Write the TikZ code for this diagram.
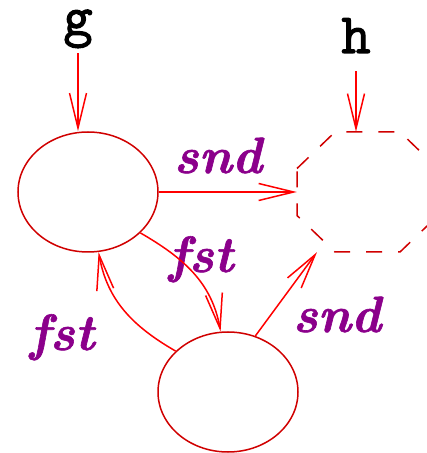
\documentclass[tikz,border=0pt]{standalone}
\usepackage{fontspec}
\newfontfamily\labelfont{Latin Modern Roman}[BoldItalicFeatures={FakeBold=1.2}]
\newfontfamily\varfont{Latin Modern Mono}[FakeBold=2]
\usetikzlibrary{arrows.meta,shapes.geometric}

\definecolor{statered}{HTML}{D00000}
\definecolor{labelpurple}{HTML}{8B008B}

\begin{document}
\begin{tikzpicture}[x=1pt,y=1pt,
	state/.style={draw=statered,line width=1.5pt,ellipse,inner sep=0,minimum width=140pt,minimum height=120pt},
	octbox/.style={inner sep=0,minimum width=141pt,minimum height=120pt},
	var/.style={font=\fontsize{57}{60}\varfont,anchor=base,inner sep=0,text depth=18pt},
	lab/.style={text=labelpurple,font=\fontsize{51}{56}\labelfont\bfseries\itshape,anchor=base,inner sep=0},
	edge/.style={draw=red,line width=1.5pt,-{Straight Barb[length=35pt,width=17pt]}}]
\useasboundingbox (0,0) rectangle (427,453);

\node[var] (g) at (78,418) {g};
\node[var] (h) at (356,400) {h};

\node[state] (e1) at (88,261) {};
\node[state] (e2) at (228,61) {};
\node[octbox] (oct) at (367.5,261) {};
\draw[statered,line width=1.5pt,dash pattern=on 16pt off 16pt]
	([shift={(-70.5,23.5)}]oct.center) -- ++(38,36.5) -- ++(65,0) -- ++(38,-36.5)
	-- ++(0,-47) -- ++(-38,-36.5) -- ++(-65,0) -- ++(-38,36.5) -- cycle;

\foreach \n/\x/\y/\t in {sa/218/280/snd,fa/201/181/fst,fb/62/103/fst,sb/337/121/snd}
{
	\node[lab] (\n) at (\x,\y) {\t};
}

\draw[edge] (g) -- (g |- e1.north);
\draw[edge] (h) -- (h |- oct.north);
\draw[edge] (e1) -- (oct);
\draw[edge] (e1.-38) to[out=-30,in=100] (e2.97);
\draw[edge] (e2.142) to[out=150,in=-80] (e1.-80);
\draw[edge] (e2.64) -- (oct.-130);
\end{tikzpicture}
\end{document}
